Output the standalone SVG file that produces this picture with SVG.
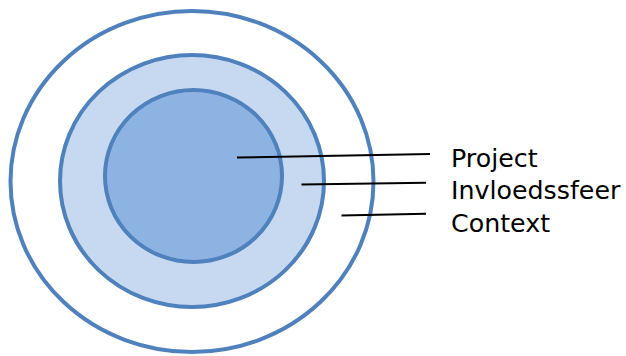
<svg xmlns="http://www.w3.org/2000/svg" width="626" height="356" viewBox="0 0 626 356">
<style>
.ring{stroke:#4F81BD;stroke-width:4}
.lbl{font-family:"DejaVu Sans","Verdana",sans-serif;font-size:25.3px;fill:#000}
.conn{stroke:#000;stroke-width:2;fill:none}
</style>
<rect width="626" height="356" fill="#fff"/>
<g id="context"><ellipse class="ring" cx="192" cy="181.5" rx="181.5" ry="170.5" fill="#fff"/></g>
<g id="invloedssfeer"><ellipse class="ring" cx="192" cy="181" rx="132" ry="126" fill="#C6D9F1"/></g>
<g id="project"><ellipse class="ring" cx="193.5" cy="176" rx="88.5" ry="86" fill="#8DB3E2"/></g>
<g id="connectors">
<line class="conn" x1="237" y1="157.5" x2="430" y2="154"/>
<line class="conn" x1="301.5" y1="184.5" x2="426" y2="182.8"/>
<line class="conn" x1="341.5" y1="215.5" x2="426" y2="213.8"/>
</g>
<g id="labels">
<text class="lbl" x="451" y="166.7">Project</text>
<text class="lbl" x="451" y="199.3">Invloedssfeer</text>
<text class="lbl" x="451" y="231.7">Context</text>
</g>
</svg>
